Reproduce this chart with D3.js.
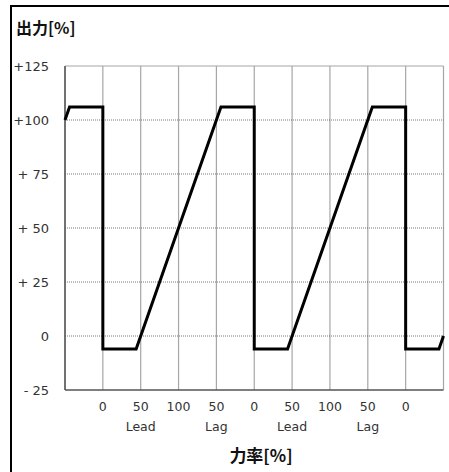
<!DOCTYPE html>
<html><head><meta charset="utf-8">
<script src="https://cdn.jsdelivr.net/npm/d3@7"></script>
<style>body{margin:0;background:#fff}svg{display:block}</style>
</head><body>
<script>
const yTicks = [125, 100, 75, 50, 25, 0, -25];
const yTickLabels = ["+125", "+100", "+ 75", "+ 50", "+ 25", "0", "- 25"];
const xTicks = [1, 2, 3, 4, 5, 6, 7, 8, 9];
const xTickLabels = ["0", "50", "100", "50", "0", "50", "100", "50", "0"];
const xGroupPos = [2, 4, 6, 8];
const xGroupLabels = ["Lead", "Lag", "Lead", "Lag"];
const lineX = [0, 0.12, 1, 1, 1.88, 4.12, 5, 5, 5.88, 8.12, 9, 9, 9.88, 10];
const lineY = [100, 106, 106, -6, -6, 106, 106, -6, -6, 106, 106, -6, -6, 0];

const W = 449, H = 472;
const svg = d3.select("body").append("svg").attr("width", W).attr("height", H);
const font = "Verdana, 'DejaVu Sans', sans-serif";

svg.append("rect").attr("x", 11).attr("y", 6).attr("width", 460).attr("height", 480)
  .attr("fill", "none").attr("stroke", "#000").attr("stroke-width", 2);

const x = d3.scaleLinear().domain([0, 10]).range([65, 443.5]);
const y = d3.scaleLinear().domain([-25, 125]).range([390, 66]);

const g = svg.append("g");
g.selectAll("line.v").data(d3.range(0, 11)).join("line")
  .attr("x1", d => x(d)).attr("x2", d => x(d)).attr("y1", y(125)).attr("y2", y(-25))
  .attr("stroke", "#a6a6a6").attr("stroke-width", 1.2);
g.selectAll("line.h").data([100, 75, 50, 25, 0]).join("line")
  .attr("x1", x(0)).attr("x2", x(10)).attr("y1", d => y(d)).attr("y2", d => y(d))
  .attr("stroke", "#555").attr("stroke-width", 0.8).attr("stroke-dasharray", "1,1");
g.append("line").attr("x1", x(0)).attr("x2", x(10)).attr("y1", y(125)).attr("y2", y(125))
  .attr("stroke", "#a6a6a6").attr("stroke-width", 1.2);
g.append("line").attr("x1", x(0)).attr("x2", x(10)).attr("y1", y(-25)).attr("y2", y(-25))
  .attr("stroke", "#555").attr("stroke-width", 1.5);
g.append("line").attr("x1", x(0)).attr("x2", x(0)).attr("y1", y(125)).attr("y2", y(-25))
  .attr("stroke", "#555").attr("stroke-width", 1.5);

svg.selectAll("text.yl").data(yTicks).join("text")
  .attr("x", 49).attr("y", d => y(d) + 5).attr("text-anchor", "end")
  .attr("font-family", font).attr("font-size", 13).attr("fill", "#333")
  .text((d, i) => yTickLabels[i]);

svg.selectAll("text.xl").data(xTicks).join("text")
  .attr("x", d => x(d)).attr("y", 411).attr("text-anchor", "middle")
  .attr("font-family", font).attr("font-size", 12.5).attr("fill", "#333")
  .text((d, i) => xTickLabels[i]);
svg.selectAll("text.xg").data(xGroupPos).join("text")
  .attr("x", d => x(d)).attr("y", 431).attr("text-anchor", "middle")
  .attr("font-family", font).attr("font-size", 12.5).attr("fill", "#333")
  .text((d, i) => xGroupLabels[i]);

svg.append("text").attr("x", 16).attr("y", 34).attr("font-family", "'Noto Sans CJK JP', sans-serif")
  .attr("font-size", 16).attr("font-weight", "bold").attr("fill", "#111").text("出力[%]");
svg.append("text").attr("x", 261).attr("y", 462).attr("text-anchor", "middle")
  .attr("font-family", "'Noto Sans CJK JP', sans-serif")
  .attr("font-size", 17).attr("font-weight", "bold").attr("fill", "#111").text("力率[%]");

const pts = lineX.map((v, i) => [v, lineY[i]]);
svg.append("path").datum(pts)
  .attr("d", d3.line().x(d => x(d[0])).y(d => y(d[1])))
  .attr("fill", "none").attr("stroke", "#000").attr("stroke-width", 3).attr("stroke-linejoin", "miter");
</script>
</body></html>
